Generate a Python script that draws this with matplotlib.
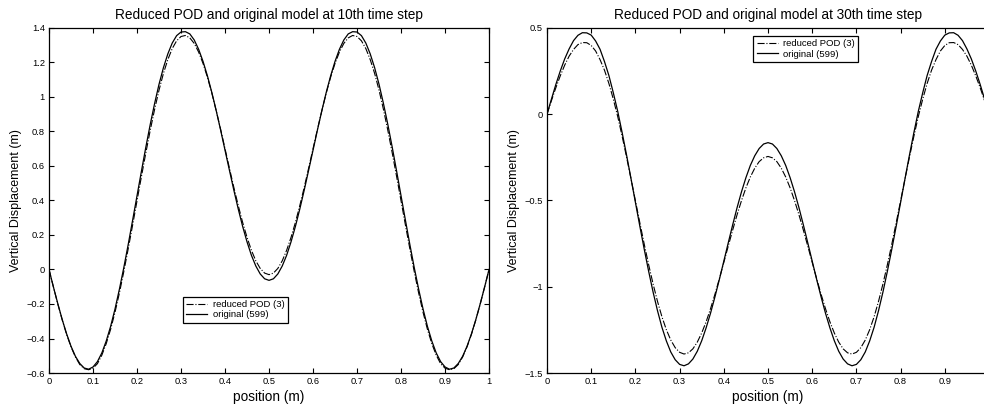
import numpy as np
import matplotlib
matplotlib.use('Agg')
import matplotlib.pyplot as plt
from matplotlib.ticker import FuncFormatter

plt.rcParams['font.family'] = ['Liberation Sans', 'DejaVu Sans']

# positions along the beam (m), every 0.01
position = np.round(np.arange(0, 1.0001, 0.01), 2)

# 10th time step
orig_10 = [0, -0.101, -0.198, -0.290, -0.373, -0.445, -0.503, -0.545, -0.571, -0.578,
           -0.565, -0.534, -0.484, -0.415, -0.330, -0.229, -0.114, 0.011, 0.145, 0.285,
           0.427, 0.569, 0.708, 0.840, 0.962, 1.073, 1.169, 1.249, 1.312, 1.355,
           1.376, 1.378, 1.365, 1.330, 1.276, 1.206, 1.122, 1.026, 0.920, 0.808,
           0.691, 0.575, 0.460, 0.351, 0.250, 0.160, 0.082, 0.020, -0.026, -0.054,
           -0.063,
           -0.054, -0.026, 0.020, 0.082, 0.160, 0.250, 0.351, 0.460, 0.575, 0.691,
           0.808, 0.920, 1.026, 1.122, 1.206, 1.276, 1.330, 1.365, 1.378, 1.376,
           1.355, 1.312, 1.249, 1.169, 1.073, 0.962, 0.840, 0.708, 0.569, 0.427,
           0.285, 0.145, 0.011, -0.114, -0.229, -0.330, -0.415, -0.484, -0.534, -0.565,
           -0.578, -0.571, -0.545, -0.503, -0.445, -0.373, -0.290, -0.198, -0.101, 0]
pod_10 = [0, -0.101, -0.200, -0.292, -0.376, -0.448, -0.507, -0.551, -0.575, -0.581,
          -0.572, -0.546, -0.497, -0.430, -0.347, -0.248, -0.136, -0.012, 0.120, 0.257,
          0.398, 0.538, 0.675, 0.806, 0.928, 1.039, 1.136, 1.216, 1.280, 1.325,
          1.350, 1.356, 1.342, 1.310, 1.260, 1.194, 1.114, 1.022, 0.920, 0.812,
          0.700, 0.587, 0.476, 0.371, 0.273, 0.186, 0.111, 0.050, 0.006, -0.021,
          -0.030,
          -0.021, 0.006, 0.050, 0.111, 0.186, 0.273, 0.371, 0.476, 0.587, 0.700,
          0.812, 0.920, 1.022, 1.114, 1.194, 1.260, 1.310, 1.342, 1.356, 1.350,
          1.325, 1.280, 1.216, 1.136, 1.039, 0.928, 0.806, 0.675, 0.538, 0.398,
          0.257, 0.120, -0.012, -0.136, -0.248, -0.347, -0.430, -0.497, -0.546, -0.572,
          -0.581, -0.575, -0.551, -0.507, -0.448, -0.376, -0.292, -0.200, -0.101, 0]

# 30th time step
orig_30 = [0, 0.087, 0.172, 0.250, 0.320, 0.378, 0.426, 0.457, 0.472, 0.471,
           0.458, 0.424, 0.376, 0.305, 0.224, 0.124, 0.016, -0.107, -0.237, -0.373,
           -0.511, -0.649, -0.783, -0.911, -1.031, -1.139, -1.235, -1.314, -1.378, -1.423,
           -1.450, -1.458, -1.447, -1.419, -1.374, -1.313, -1.238, -1.153, -1.058, -0.957,
           -0.852, -0.746, -0.642, -0.542, -0.450, -0.368, -0.297, -0.241, -0.199, -0.173,
           -0.165,
           -0.173, -0.199, -0.241, -0.297, -0.368, -0.450, -0.542, -0.642, -0.746, -0.852,
           -0.957, -1.058, -1.153, -1.238, -1.313, -1.374, -1.419, -1.447, -1.458, -1.450,
           -1.423, -1.378, -1.314, -1.235, -1.139, -1.031, -0.911, -0.783, -0.649, -0.511,
           -0.373, -0.237, -0.107, 0.016, 0.124, 0.224, 0.305, 0.376, 0.424, 0.458,
           0.471, 0.472, 0.457, 0.426, 0.378, 0.320, 0.250, 0.172, 0.087, 0]
pod_30 = [0, 0.078, 0.153, 0.222, 0.284, 0.336, 0.375, 0.403, 0.415, 0.414,
          0.398, 0.366, 0.316, 0.255, 0.178, 0.087, -0.014, -0.128, -0.249, -0.374,
          -0.502, -0.629, -0.754, -0.873, -0.984, -1.085, -1.174, -1.249, -1.309, -1.353,
          -1.380, -1.390, -1.383, -1.360, -1.321, -1.268, -1.203, -1.127, -1.043, -0.953,
          -0.859, -0.765, -0.672, -0.583, -0.501, -0.427, -0.364, -0.313, -0.275, -0.253,
          -0.245,
          -0.253, -0.275, -0.313, -0.364, -0.427, -0.501, -0.583, -0.672, -0.765, -0.859,
          -0.953, -1.043, -1.127, -1.203, -1.268, -1.321, -1.360, -1.383, -1.390, -1.380,
          -1.353, -1.309, -1.249, -1.174, -1.085, -0.984, -0.873, -0.754, -0.629, -0.502,
          -0.374, -0.249, -0.128, -0.014, 0.087, 0.178, 0.255, 0.316, 0.366, 0.398,
          0.414, 0.415, 0.403, 0.375, 0.336, 0.284, 0.222, 0.153, 0.078, 0]

label_pod = 'reduced POD (3)'
label_orig = 'original (599)'


def g_format(value, _pos):
    text = '%g' % round(value, 4)
    return text.replace('-', '\u2212')


def setup_axes(ax, ylim, yticks, title):
    ax.set_xlim(0, 1)
    ax.set_ylim(*ylim)
    ax.set_xticks(np.round(np.arange(0, 1.01, 0.1), 1))
    ax.set_yticks(yticks)
    ax.xaxis.set_major_formatter(FuncFormatter(g_format))
    ax.yaxis.set_major_formatter(FuncFormatter(g_format))
    ax.tick_params(direction='in', length=3.5, width=0.8, top=True, right=True,
                   labelsize=6.7, pad=3)
    for spine in ax.spines.values():
        spine.set_linewidth(0.9)
    ax.set_title(title, fontsize=9.8, pad=6.5)
    ax.set_xlabel('position (m)', fontsize=9.8, labelpad=2.5)
    ax.set_ylabel('Vertical Displacement (m)', fontsize=9, labelpad=3)


def add_legend(ax, anchor):
    leg = ax.legend(loc='upper left', bbox_to_anchor=anchor, borderaxespad=0,
                    fontsize=6.8, handlelength=2.2, handletextpad=0.6, borderpad=0.35,
                    labelspacing=0.15, fancybox=False, framealpha=1, edgecolor='k')
    leg.get_frame().set_linewidth(0.9)
    return leg


fig = plt.figure(figsize=(9.84, 4.07), dpi=100)

ax1 = fig.add_axes([0.0498, 0.0835, 0.4472, 0.848])
ax1.plot(position, pod_10, color='k', linestyle='-.', linewidth=0.8, label=label_pod)
ax1.plot(position, orig_10, color='k', linestyle='-', linewidth=0.9, label=label_orig)
setup_axes(ax1, (-0.6, 1.4), np.round(np.arange(-0.6, 1.41, 0.2), 1),
           'Reduced POD and original model at 10th time step')
add_legend(ax1, (0.304, 0.221))

ax2 = fig.add_axes([0.5559, 0.0835, 0.4492, 0.848])
ax2.plot(position, pod_30, color='k', linestyle='-.', linewidth=0.8, label=label_pod)
ax2.plot(position, orig_30, color='k', linestyle='-', linewidth=0.9, label=label_orig)
setup_axes(ax2, (-1.5, 0.5), [-1.5, -1, -0.5, 0, 0.5],
           'Reduced POD and original model at 30th time step')
# the last tick label sits past the figure edge in the original
ax2.set_xticklabels(['0', '0.1', '0.2', '0.3', '0.4', '0.5', '0.6', '0.7', '0.8', '0.9', ''])
add_legend(ax2, (0.467, 0.977))

plt.savefig('out.png', dpi=100)
